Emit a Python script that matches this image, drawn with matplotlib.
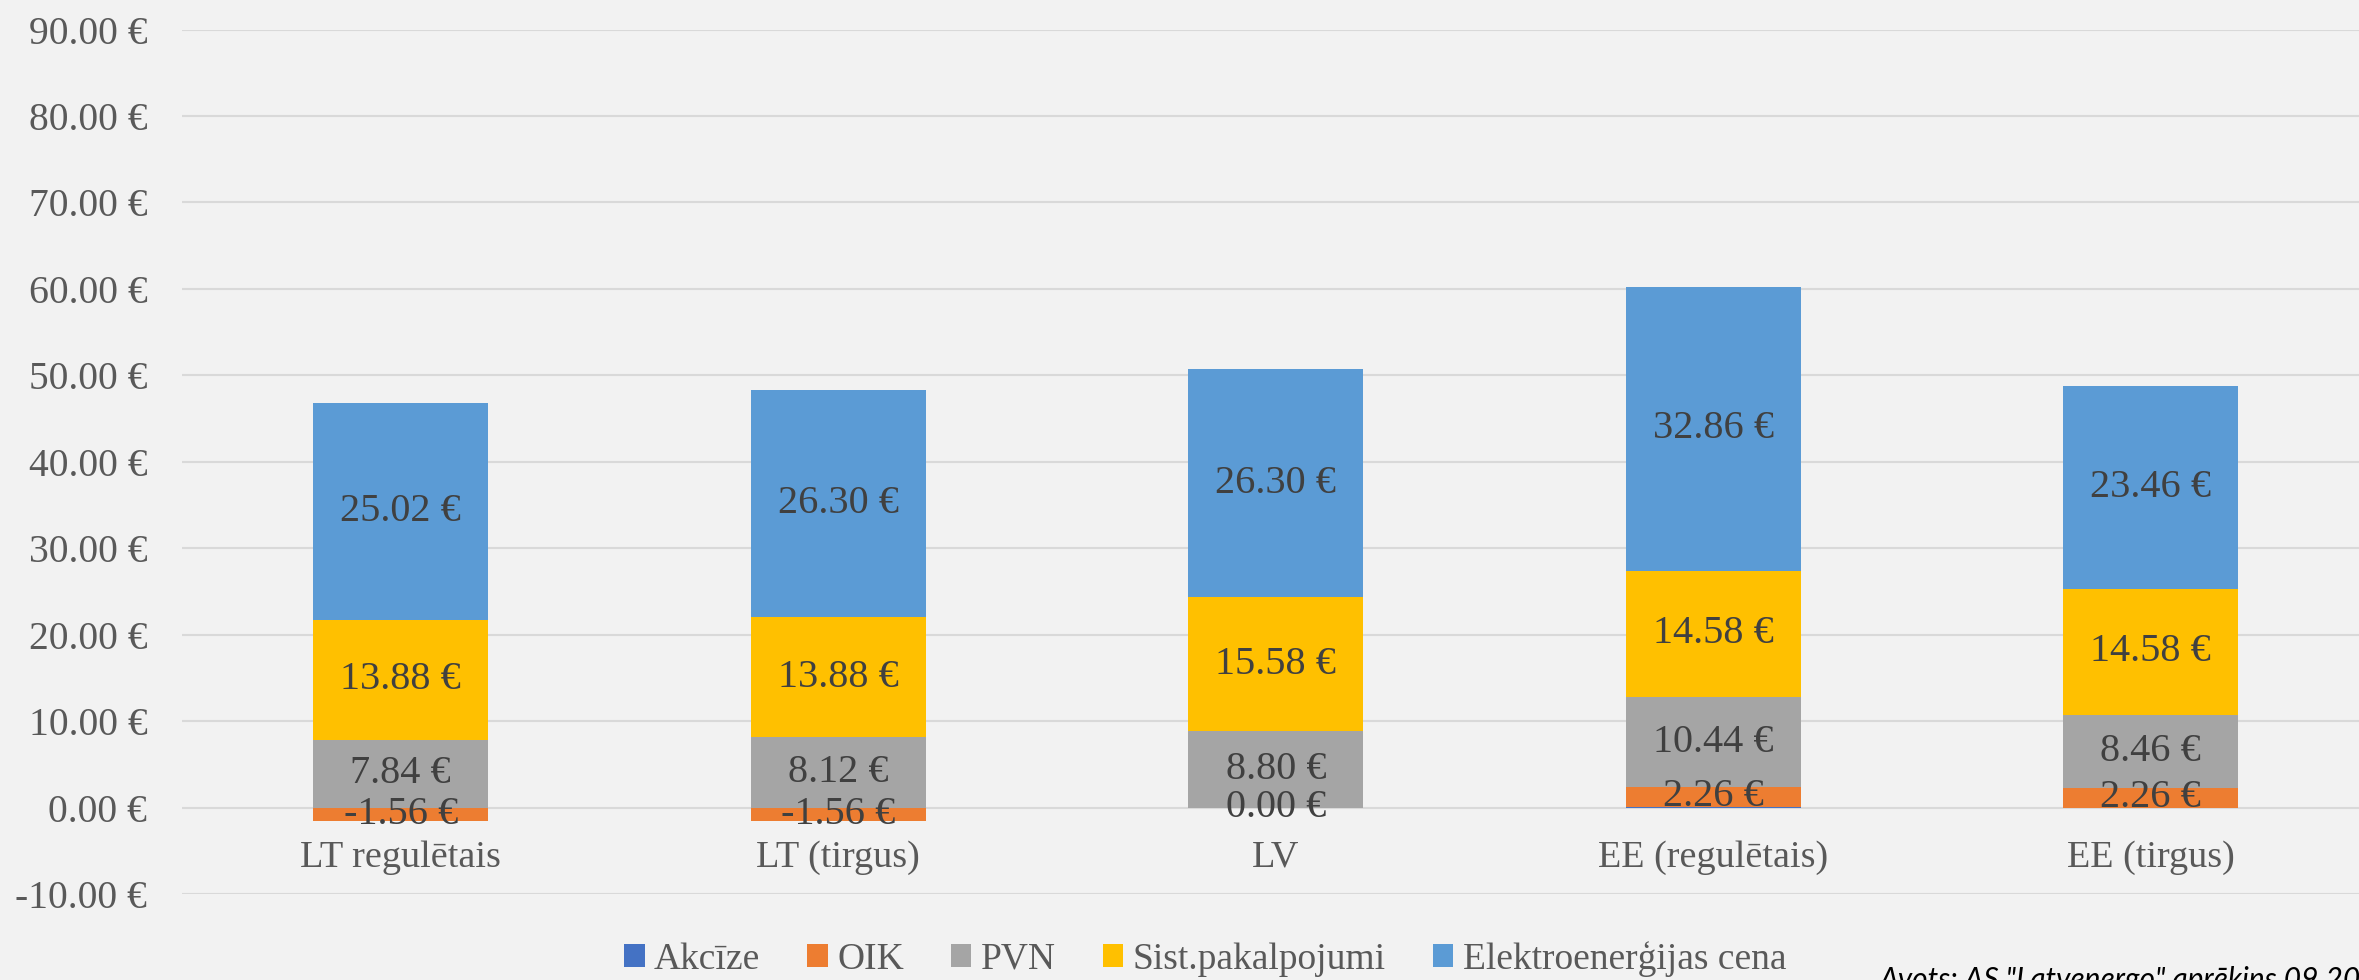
import numpy as np
import matplotlib.pyplot as plt
from matplotlib.transforms import blended_transform_factory, offset_copy

categories = ['LT regulētais', 'LT (tirgus)', 'LV', 'EE (regulētais)', 'EE (tirgus)']
series_names = ['Akcīze', 'OIK', 'PVN', 'Sist.pakalpojumi', 'Elektroenerģijas cena']
akcize = [0.0, 0.0, 0.0, 0.1, 0.0]
oik = [-1.56, -1.56, 0.00, 2.26, 2.26]
pvn = [7.84, 8.12, 8.80, 10.44, 8.46]
sist = [13.88, 13.88, 15.58, 14.58, 14.58]
elektro = [25.02, 26.30, 26.30, 32.86, 23.46]
yticks = [-10, 0, 10, 20, 30, 40, 50, 60, 70, 80, 90]
source = 'Avots: AS "Latvenergo" aprēķins 09.2016'

colors = ['#4472C4', '#ED7D31', '#A5A5A5', '#FFC000', '#5B9BD5']
show_labels = [False, True, True, True, True]
bg = '#F2F2F2'
serif = ['Liberation Serif', 'DejaVu Serif']

fig = plt.figure(figsize=(23.59, 9.8), dpi=100, facecolor=bg)
ax = fig.add_axes([182 / 2359, 1 - 894 / 980, 2187.5 / 2359, 864.5 / 980])
ax.set_facecolor(bg)

x = np.arange(len(categories))
pos_base = np.zeros(len(categories))
neg_base = np.zeros(len(categories))
for name, vals, col, lab in zip(series_names, [akcize, oik, pvn, sist, elektro], colors, show_labels):
    vals = np.array(vals)
    bottom = np.where(vals >= 0, pos_base, neg_base)
    bars = ax.bar(x, vals, width=0.4, bottom=bottom, color=col, label=name, zorder=3)
    pos_base = pos_base + np.where(vals >= 0, vals, 0)
    neg_base = neg_base + np.where(vals < 0, vals, 0)
    if lab:
        ax.bar_label(bars, labels=[f'{v:.2f} €' for v in vals], label_type='center',
                     fontsize=29, color='#404040', family=serif, zorder=4)

ax.set_xlim(-0.5, 4.5)
ax.set_ylim(-10, 90)
ax.set_yticks(yticks)
ax.set_yticklabels([f'{v:.2f} €' for v in yticks], family=serif, fontsize=28.5, color='#595959')
ax.tick_params(axis='y', length=0, pad=25)
ax.set_xticks([])
ax.grid(axis='y', color='#D9D9D9', linewidth=1.5, zorder=0)
for s in ax.spines.values():
    s.set_visible(False)

trans = offset_copy(blended_transform_factory(ax.transData, ax.transData), fig=fig, x=0, y=-42.5, units='points')
for i, c in enumerate(categories):
    ax.text(i, 0, c, transform=trans, ha='center', va='baseline', fontsize=27.5,
            color='#595959', family=serif)

fig.legend(loc='center', bbox_to_anchor=(1205 / 2359, 1 - 959 / 980), ncol=5, frameon=False,
           prop={'family': serif, 'size': 27}, labelcolor='#595959',
           handlelength=0.55, handleheight=0.55, handletextpad=0.25, columnspacing=1.25)

fig.text(1880 / 2359, 1 - 966 / 980, source, ha='left', va='top', fontsize=21.5,
         style='italic', family=['Lato', 'DejaVu Sans'], color='#000000')

fig.savefig('out.png', dpi=100, facecolor=bg)
